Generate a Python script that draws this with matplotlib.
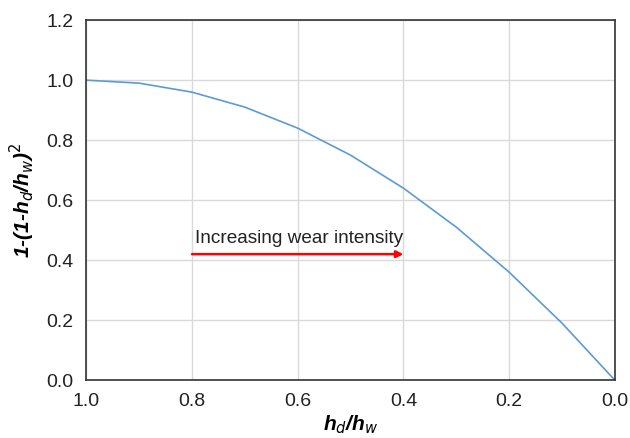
import matplotlib
matplotlib.use("Agg")
import matplotlib.pyplot as plt

plt.rcParams['font.family'] = ['Liberation Sans', 'DejaVu Sans']

# values
hd_hw = [1.0, 0.9, 0.8, 0.7, 0.6, 0.5, 0.4, 0.3, 0.2, 0.1, 0.0]
factor = [1.0, 0.99, 0.96, 0.91, 0.84, 0.75, 0.64, 0.51, 0.36, 0.19, 0.0]
x_ticks = [1.0, 0.8, 0.6, 0.4, 0.2, 0.0]
y_ticks = [0.0, 0.2, 0.4, 0.6, 0.8, 1.0, 1.2]

fig = plt.figure(figsize=(6.3, 4.38), dpi=100)
ax = fig.add_axes([0.137, 0.132, 0.839, 0.822])

ax.plot(hd_hw, factor, color='#5b9bd5', linewidth=1.2)

ax.set_xlim(1.0, 0.0)
ax.set_ylim(0.0, 1.2)
ax.set_xticks(x_ticks)
ax.set_yticks(y_ticks)
ax.set_xticklabels([f'{v:.1f}' for v in x_ticks])
ax.set_yticklabels([f'{v:.1f}' for v in y_ticks])
ax.tick_params(length=0, labelsize=14, colors='#222222', pad=9)
ax.grid(color='#d9d9d9', linewidth=1)
ax.set_axisbelow(True)
for s in ax.spines.values():
    s.set_color('#333333')
    s.set_linewidth(1.2)

# arrow + note
ax.annotate('', xy=(0.4, 0.42), xytext=(0.8, 0.42),
            arrowprops=dict(arrowstyle='-|>', color='red', lw=1.8,
                            mutation_scale=10, shrinkA=0, shrinkB=0))
ax.text(0.795, 0.445, 'Increasing wear intensity', fontsize=13.7,
        color='#222222', ha='left', va='bottom')

ax.set_xlabel('h$_d$/h$_w$', fontsize=15, fontweight='bold', style='italic',
              labelpad=3)
ax.set_ylabel('1-(1-h$_d$/h$_w$)$^2$', fontsize=15, fontweight='bold',
              style='italic', labelpad=7)

fig.savefig('out.png', dpi=100)
